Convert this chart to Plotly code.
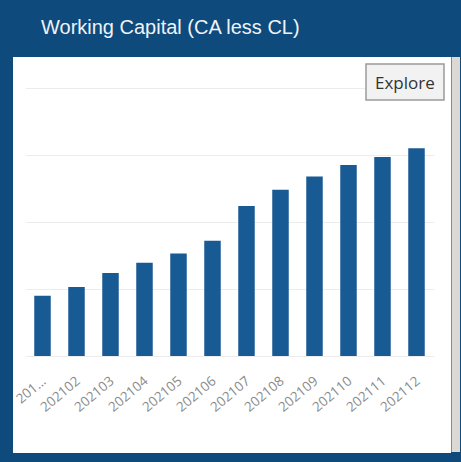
import plotly.graph_objects as go

# ---- data ----
periods = ["202101", "202102", "202103", "202104", "202105", "202106",
           "202107", "202108", "202109", "202110", "202111", "202112"]
tick_labels = ["201...", "202102", "202103", "202104", "202105", "202106",
               "202107", "202108", "202109", "202110", "202111", "202112"]
working_capital = [0.90, 1.03, 1.24, 1.39, 1.53, 1.72,
                   2.24, 2.48, 2.68, 2.85, 2.97, 3.10]
title_text = "Working Capital (CA less CL)"
button_text = "Explore"

W, H = 461, 462
def px(x):
    return x / W
def py(y):
    return 1 - y / H

NAVY = "#0e4a7b"
BAR = "#185a94"

fig = go.Figure(go.Bar(
    x=periods, y=working_capital,
    marker=dict(color=BAR, line=dict(width=0)),
    hoverinfo="x+y",
))

shapes = [
    # white panel
    dict(type="rect", xref="paper", yref="paper", layer="below",
         x0=px(13), x1=px(451), y0=py(453), y1=py(57),
         fillcolor="white", line=dict(width=0)),
    # scrollbar
    dict(type="rect", xref="paper", yref="paper", layer="below",
         x0=px(451.5), x1=px(460), y0=py(452), y1=py(57),
         fillcolor="#dcd8d4", line=dict(width=0)),
    # left border strip (clips overflowing label)
    dict(type="rect", xref="paper", yref="paper", layer="above",
         x0=0, x1=px(13), y0=0, y1=1,
         fillcolor=NAVY, line=dict(width=0)),
    # explore button
    dict(type="rect", xref="paper", yref="paper", layer="above",
         x0=px(366), x1=px(444), y0=py(100), y1=py(64),
         fillcolor="#f2f2f2", line=dict(color="#9a9a9a", width=1.5)),
]

annotations = [
    dict(text=title_text, xref="paper", yref="paper",
         x=px(39), y=py(27), xanchor="left", yanchor="middle",
         showarrow=False,
         font=dict(family="Liberation Sans, Arial, sans-serif", size=20,
                   color="#eef3f8")),
    dict(text=button_text, xref="paper", yref="paper",
         x=px(405), y=py(82), xanchor="center", yanchor="middle",
         showarrow=False,
         font=dict(family="Open Sans, Noto Sans, sans-serif", size=17,
                   color="#333333")),
]

fig.update_layout(
    template="none",
    width=W, height=H,
    margin=dict(l=0, r=0, t=0, b=0, pad=0),
    paper_bgcolor=NAVY,
    plot_bgcolor="rgba(0,0,0,0)",
    showlegend=False,
    bargap=0.515,
    shapes=shapes,
    annotations=annotations,
    xaxis=dict(
        domain=[px(25.5), px(433.5)],
        type="category",
        automargin=False,
        tickmode="array", tickvals=periods, ticktext=tick_labels,
        tickangle=-40,
        tickfont=dict(family="Open Sans, Noto Sans, sans-serif", size=13.5,
                      color="#8a8a8a"),
        showgrid=False, showline=False,
        ticks="outside", ticklen=11, tickcolor="rgba(0,0,0,0)",
        fixedrange=True,
    ),
    yaxis=dict(
        domain=[py(356), py(74.6)],
        range=[0, 4.2],
        dtick=1,
        automargin=False,
        showticklabels=False,
        showgrid=True, gridcolor="#ececec", gridwidth=1,
        zeroline=True, zerolinecolor="#ececec", zerolinewidth=1,
        showline=False, ticks="",
        fixedrange=True,
    ),
)

fig.write_html(
    "out.html",
    config={"displayModeBar": False},
    post_script="document.body.style.margin='0';document.body.style.overflow='hidden';",
)
